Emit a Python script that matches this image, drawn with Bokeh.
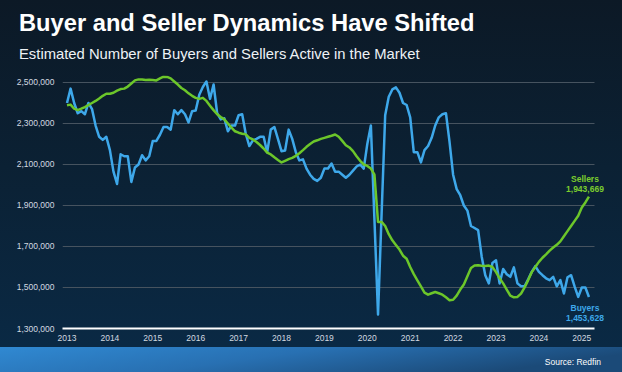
from bokeh.plotting import figure
from bokeh.layouts import column
from bokeh.models import Label, BoxAnnotation, FixedTicker, NumeralTickFormatter, Range1d, Div
from bokeh.embed import file_html
from bokeh.resources import INLINE

# ---------------- data (monthly, Jan 2013 - Mar 2025) ----------------
start_year = 2013

buyers = [
    2400000, 2470000, 2400000, 2350000, 2360000, 2345000, 2400000, 2370000, 2290000, 2235000, 2220000, 2235000,
    2170000, 2065000, 2005000, 2150000, 2140000, 2140000, 2015000, 2085000, 2100000, 2145000, 2120000, 2140000,
    2215000, 2215000, 2245000, 2283000, 2283000, 2270000, 2365000, 2345000, 2365000, 2345000, 2305000, 2360000,
    2363000, 2440000, 2478000, 2505000, 2420000, 2490000, 2350000, 2320000, 2325000, 2262000, 2290000, 2290000,
    2340000, 2345000, 2250000, 2190000, 2218000, 2225000, 2235000, 2235000, 2160000, 2270000, 2283000, 2225000,
    2165000, 2168000, 2270000, 2225000, 2160000, 2120000, 2125000, 2080000, 2050000, 2030000, 2020000, 2035000,
    2080000, 2080000, 2105000, 2065000, 2065000, 2050000, 2035000, 2050000, 2070000, 2090000, 2100000, 2080000,
    2200000, 2290000, 1830000, 1368000, 1860000, 2340000, 2430000, 2466000, 2476000, 2450000, 2400000, 2390000,
    2330000, 2160000, 2160000, 2110000, 2170000, 2190000, 2230000, 2290000, 2330000, 2345000, 2350000, 2210000,
    2050000, 1980000, 1950000, 1900000, 1875000, 1800000, 1790000, 1780000, 1650000, 1560000, 1520000, 1620000,
    1633000, 1520000, 1590000, 1565000, 1552000, 1598000, 1520000, 1506000, 1506000, 1540000, 1576000, 1604000,
    1576000, 1560000, 1545000, 1536000, 1552000, 1506000, 1536000, 1471000, 1550000, 1560000, 1504000, 1454000,
    1500000, 1500000, 1453628,
]

sellers = [
    2389000, 2392000, 2372000, 2365000, 2372000, 2380000, 2390000, 2400000, 2410000, 2422000, 2435000, 2445000,
    2445000, 2450000, 2460000, 2468000, 2470000, 2480000, 2495000, 2510000, 2515000, 2515000, 2512000, 2513000,
    2512000, 2510000, 2520000, 2528000, 2527000, 2520000, 2505000, 2490000, 2473000, 2462000, 2447000, 2435000,
    2425000, 2420000, 2425000, 2410000, 2387000, 2365000, 2345000, 2332000, 2320000, 2300000, 2280000, 2262000,
    2255000, 2250000, 2247000, 2230000, 2222000, 2210000, 2195000, 2178000, 2158000, 2149000, 2135000, 2122000,
    2110000, 2118000, 2126000, 2132000, 2142000, 2155000, 2170000, 2186000, 2200000, 2212000, 2218000, 2225000,
    2230000, 2235000, 2240000, 2246000, 2235000, 2215000, 2194000, 2183000, 2165000, 2140000, 2118000, 2100000,
    2093000, 2080000, 2050000, 1820000, 1820000, 1800000, 1760000, 1730000, 1707000, 1685000, 1655000, 1640000,
    1600000, 1565000, 1535000, 1505000, 1475000, 1465000, 1472000, 1478000, 1472000, 1465000, 1452000, 1438000,
    1440000, 1460000, 1490000, 1515000, 1555000, 1595000, 1607000, 1609000, 1606000, 1605000, 1607000, 1600000,
    1575000, 1545000, 1520000, 1490000, 1460000, 1452000, 1454000, 1470000, 1500000, 1536000, 1575000, 1600000,
    1625000, 1645000, 1662000, 1680000, 1695000, 1708000, 1725000, 1750000, 1775000, 1800000, 1825000, 1850000,
    1890000, 1915000, 1943669,
]

year_ticks = list(range(2013, 2026))
value_ticks = [1300000, 1500000, 1700000, 1900000, 2100000, 2300000, 2500000]

title_text = "Buyer and Seller Dynamics Have Shifted"
subtitle_text = "Estimated Number of Buyers and Sellers Active in the Market"
source_text = "Source: Redfin"

t = [start_year + i / 12 for i in range(len(buyers))]

FONT = "Liberation Sans"
BUYER_C = "#3ea8ea"
SELLER_C = "#6cc62a"

W = 622
HEAD_H, MAIN_H, BAND_H = 75, 272, 25

# ---------------- header (text as inline SVG) ----------------
header = Div(width=W, height=HEAD_H, margin=0, text=f"""
<svg xmlns="http://www.w3.org/2000/svg" width="{W}" height="{HEAD_H}" style="display:block">
  <text x="19" y="31" font-family="{FONT}" font-weight="bold" font-size="23.7px" fill="#ffffff">{title_text}</text>
  <text x="19" y="59" font-family="{FONT}" font-size="14.8px" fill="#eef2f6">{subtitle_text}</text>
</svg>""")

# ---------------- main chart ----------------
ML, MR, MB = 62, 14, 19
x0 = 2012.895
px_per_year = 42.9
x1 = x0 + (W - ML - MR) / px_per_year
grid_end = x0 + (594 - ML) / px_per_year

p = figure(width=W, height=MAIN_H, output_backend="svg", toolbar_location=None,
           x_range=Range1d(x0, x1), y_range=Range1d(1300000, 2534000),
           min_border_left=ML, min_border_right=MR, min_border_top=0, min_border_bottom=MB)
p.outline_line_color = None
p.background_fill_alpha = 0
p.border_fill_alpha = 0

p.xaxis.ticker = FixedTicker(ticks=year_ticks)
p.xaxis.formatter = NumeralTickFormatter(format="0")
p.xaxis.bounds = (x0, grid_end)
p.xaxis.axis_line_color = "white"
p.xaxis.axis_line_width = 2
p.xaxis.major_tick_out = 0
p.xaxis.major_tick_in = 0
p.xaxis.minor_tick_line_color = None
p.xaxis.major_tick_line_color = None
p.xaxis.major_label_standoff = 6
p.xaxis.major_label_text_color = "#d3d9e0"
p.xaxis.major_label_text_font = FONT
p.xaxis.major_label_text_font_size = "8.5px"

p.yaxis.ticker = FixedTicker(ticks=value_ticks)
p.yaxis.formatter = NumeralTickFormatter(format="0,0")
p.yaxis.axis_line_color = None
p.yaxis.major_tick_out = 0
p.yaxis.major_tick_in = 0
p.yaxis.minor_tick_line_color = None
p.yaxis.major_tick_line_color = None
p.yaxis.major_label_standoff = 8
p.yaxis.major_label_text_color = "#d3d9e0"
p.yaxis.major_label_text_font = FONT
p.yaxis.major_label_text_font_size = "8.5px"

p.xgrid.grid_line_color = None
p.ygrid.grid_line_color = "#46535f"
p.ygrid.grid_line_width = 1
p.ygrid.cross_bounds = (x0, grid_end)

p.line(t, buyers, line_color=BUYER_C, line_width=2.5, line_join="round")
p.line(t, sellers, line_color=SELLER_C, line_width=2.5, line_join="round")


def fmt(v):
    return f"{v:,}"


lab_kw = dict(text_align="center", text_baseline="middle", text_font=FONT,
              text_font_style="bold", text_font_size="8.5px")
p.add_layout(Label(x=t[-1], y=sellers[-1], x_offset=-4, y_offset=18, text="Sellers",
                   text_color="#7ccd2e", **lab_kw))
p.add_layout(Label(x=t[-1], y=sellers[-1], x_offset=-4, y_offset=8, text=fmt(sellers[-1]),
                   text_color="#7ccd2e", **lab_kw))
p.add_layout(Label(x=t[-1], y=buyers[-1], x_offset=-4, y_offset=-11, text="Buyers",
                   text_color=BUYER_C, **lab_kw))
p.add_layout(Label(x=t[-1], y=buyers[-1], x_offset=-4, y_offset=-21, text=fmt(buyers[-1]),
                   text_color=BUYER_C, **lab_kw))

# ---------------- bottom band ----------------
band = Div(width=W, height=BAND_H, margin=0, text=f"""
<svg xmlns="http://www.w3.org/2000/svg" width="{W}" height="{BAND_H}" style="display:block">
  <defs><linearGradient id="bandg" x1="0" y1="0" x2="1" y2="0.3">
    <stop offset="0" stop-color="#3089d2"/><stop offset="0.5" stop-color="#2870b2"/>
    <stop offset="1" stop-color="#1b4a78"/></linearGradient></defs>
  <rect x="0" y="0" width="{W}" height="{BAND_H}" fill="url(#bandg)"/>
  <text x="601" y="18" text-anchor="end" font-family="{FONT}" font-size="8.5px" fill="#ffffff">{source_text}</text>
</svg>""")

layout = column(header, p, band, spacing=0, margin=0,
                styles={"background": "linear-gradient(180deg, #0c1926 0%, #0b2134 45%, #0a2944 93%)"})
open("out.html", "w").write(file_html(layout, INLINE))
